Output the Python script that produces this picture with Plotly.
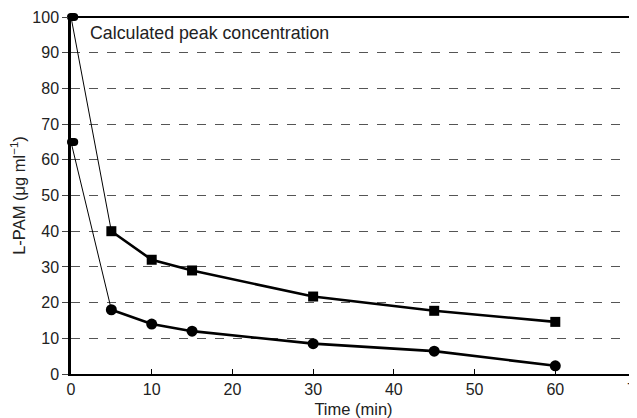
import plotly.graph_objects as go

time_min = [0, 5, 10, 15, 30, 45, 60]
peak_series = [100, 40, 32, 29, 21.7, 17.7, 14.6]
low_series = [65, 18, 14, 12, 8.5, 6.4, 2.3]
x_ticks = [0, 10, 20, 30, 40, 50, 60, 70]
y_ticks = [0, 10, 20, 30, 40, 50, 60, 70, 80, 90, 100]

FONT = "Liberation Sans, Arial, sans-serif"
fig = go.Figure()

# thin initial segments
for ys in (peak_series, low_series):
    fig.add_trace(go.Scatter(x=time_min[:2], y=ys[:2], mode="lines",
                             line=dict(color="black", width=1), cliponaxis=False,
                             showlegend=False, hoverinfo="skip"))

# thick main segments
fig.add_trace(go.Scatter(x=time_min[1:], y=peak_series[1:], mode="lines+markers",
                         line=dict(color="black", width=2.6),
                         marker=dict(symbol="square", size=10, color="black"),
                         cliponaxis=False, showlegend=False))
fig.add_trace(go.Scatter(x=time_min[1:], y=low_series[1:], mode="lines+markers",
                         line=dict(color="black", width=2.6),
                         marker=dict(symbol="circle", size=11, color="black"),
                         cliponaxis=False, showlegend=False))

# elliptical (capsule) markers at time zero
offsets = [-0.4, -0.2, 0, 0.2, 0.4]
for ys in (peak_series, low_series):
    fig.add_trace(go.Scatter(x=[time_min[0] + d for d in offsets],
                             y=[ys[0]] * len(offsets), mode="markers",
                             marker=dict(symbol="circle", size=8, color="black"),
                             cliponaxis=False, showlegend=False))

fig.add_annotation(x=0.03, y=0.99, xref="paper", yref="paper", xanchor="left",
                   yanchor="top", text="Calculated peak concentration",
                   showarrow=False, font=dict(size=17.8, color="#222", family=FONT))

# top and right border
fig.add_shape(type="line", xref="paper", yref="paper", x0=0, x1=1, y0=1, y1=1,
              line=dict(color="black", width=2))
fig.add_shape(type="line", xref="paper", yref="paper", x0=1, x1=1, y0=0, y1=1,
              line=dict(color="black", width=1.2))

# page body has an 8px margin, so the figure is sized to fit the window
fig.update_layout(
    width=629, height=410,
    margin=dict(l=63, r=1, t=9, b=44),
    paper_bgcolor="white", plot_bgcolor="white",
    font=dict(family=FONT, size=16, color="#222"),
    xaxis=dict(range=[0, 70], tickvals=x_ticks, ticks="inside", ticklen=5,
               tickcolor="black", showline=True, linecolor="black", linewidth=2,
               showgrid=False, zeroline=False, automargin=False,
               tickfont=dict(size=16), ticklabeloverflow="allow",
               title=dict(text="Time (min)", standoff=12, font=dict(size=16.5))),
    yaxis=dict(range=[0, 100], tickvals=y_ticks, ticks="outside", ticklen=6,
               tickcolor="#444", showline=True, linecolor="black", linewidth=2.5,
               showgrid=True, gridcolor="#555", griddash="dash", gridwidth=1,
               zeroline=False, automargin=False, tickfont=dict(size=16),
               title=dict(text="L-PAM (μg ml<sup>−1</sup>)", standoff=8,
                          font=dict(size=16.5))),
)

fig.write_html("out.html")
